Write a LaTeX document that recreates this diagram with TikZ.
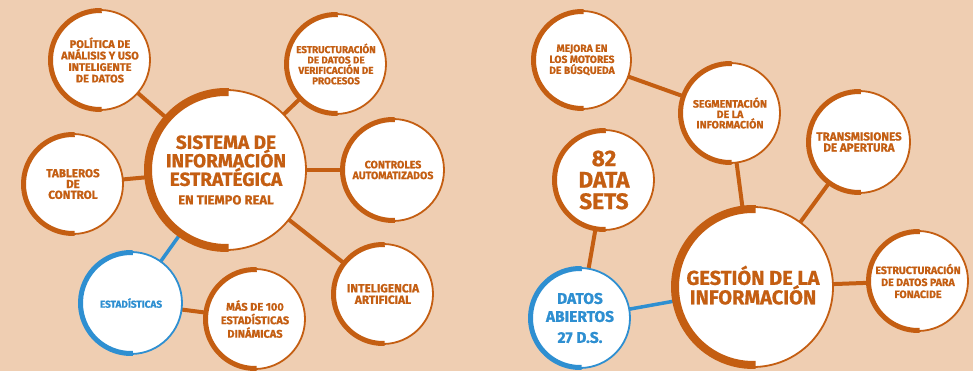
\documentclass[tikz,border=0pt]{standalone}
\usepackage{fontspec}
\setmainfont{Fira Sans}[BoldFeatures={FakeBold=0.8}]
\definecolor{bgc}{HTML}{EFCEB2}
\definecolor{org}{HTML}{C45E12}
\definecolor{blu}{HTML}{2E8FD1}
\pgfdeclarelayer{bglayer}
\pgfdeclarelayer{edgelayer}
\pgfsetlayers{bglayer,edgelayer,main}
\tikzset{
  bubble/.style={circle, fill=white, line width=1.8pt, inner sep=0pt, align=center},
  conn/.style={line width=4pt, draw=org},
  bconn/.style={line width=3.5pt, draw=blu},
}
\newcommand\bub[8]{%
  \node[bubble, draw=#5, text=#5, minimum size={2*#4pt-2pt}, font=\bfseries#7] (#1) at (#2,#3) {#8};
  \draw[draw=#5, line width=#6pt] ([shift={(88:{#4pt+1pt-#6pt/2})}]#1.center) arc[start angle=88, end angle=272, radius={#4pt+1pt-#6pt/2}];
}
\newcommand\fs[2]{\fontsize{#1}{#2}\selectfont}
\begin{document}
\begin{tikzpicture}[x=1pt,y=1pt]
\begin{pgfonlayer}{bglayer}
  \fill[bgc] (0,0) rectangle (973,371);
\end{pgfonlayer}
\useasboundingbox (0,0) rectangle (973,371);

% left group
\bub{sis}{226}{201}{81}{org}{8}{\fs{19}{18.5}}{SISTEMA DE\\INFORMACIÓN\\ESTRATÉGICA\\{\fs{13}{15}EN TIEMPO REAL}}
\bub{pol}{100}{311}{51}{org}{5}{\fs{11}{11.5}}{POLÍTICA DE\\ANÁLISIS Y USO\\INTELIGENTE\\DE DATOS}
\bub{est}{336}{307}{51}{org}{5}{\fs{9.9}{10.4}}{ESTRUCTURACIÓN\\DE DATOS DE\\VERIFICACIÓN DE\\PROCESOS}
\bub{tab}{73}{187}{51}{org}{5}{\fs{11.6}{10.8}}{TABLEROS\\DE\\CONTROL}
\bub{con}{393}{201}{52}{org}{5}{\fs{10.6}{10.8}}{CONTROLES\\AUTOMATIZADOS}
\bub{int}{383}{77}{51}{org}{5}{\fs{11.8}{11.5}}{INTELIGENCIA\\ARTIFICIAL}
\bub{eds}{131}{68}{52}{blu}{5}{\fs{10}{11}}{ESTADÍSTICAS}
\bub{mas}{255}{52}{51}{org}{5}{\fs{11}{13.5}}{MÁS DE 100\\ESTADÍSTICAS\\DINÁMICAS}

% right group
\bub{ges}{753}{84}{81}{org}{8}{\fs{20}{19.5}}{\\[-4pt]GESTIÓN DE LA\\INFORMACIÓN}
\bub{mej}{582}{311}{50}{org}{5}{\fs{10.3}{11}}{MEJORA EN\\LOS MOTORES\\DE BÚSQUEDA}
\bub{seg}{730}{258}{51}{org}{5}{\fs{10.6}{10.4}}{SEGMENTACIÓN\\DE LA\\INFORMACIÓN}
\bub{dat}{604}{191}{51}{org}{5}{\fs{22.5}{21.5}}{82\\DATA\\SETS}
\bub{tra}{859}{229}{52}{org}{5}{\fs{11.6}{11}}{TRANSMISIONES\\DE APERTURA}
\bub{fon}{918}{90}{51}{org}{5}{\fs{10.6}{12}}{ESTRUCTURACIÓN\\DE DATOS PARA\\FONACIDE}
\bub{abi}{580}{53}{51}{blu}{5}{\fs{15.5}{18}}{DATOS\\ABIERTOS\\[3pt]27 D.S.}

\begin{pgfonlayer}{edgelayer}
  \draw[conn] (sis.center) -- (pol.center);
  \draw[conn] (sis.center) -- (est.center);
  \draw[conn] (sis.center) -- (tab.center);
  \draw[conn] (sis.center) -- (con.center);
  \draw[conn] (sis.center) -- (int.center);
  \draw[bconn] (sis.center) -- (eds.center);
  \draw[conn] (eds.center) -- (mas.center);
  \draw[conn] (mej.center) -- (seg.center);
  \draw[conn] (seg.center) -- (ges.center);
  \draw[conn] (ges.center) -- (tra.center);
  \draw[conn] (ges.center) -- (fon.center);
  \draw[bconn] (ges.center) -- (abi.center);
  \draw[conn] (dat.center) -- (abi.center);
\end{pgfonlayer}
\end{tikzpicture}
\end{document}
